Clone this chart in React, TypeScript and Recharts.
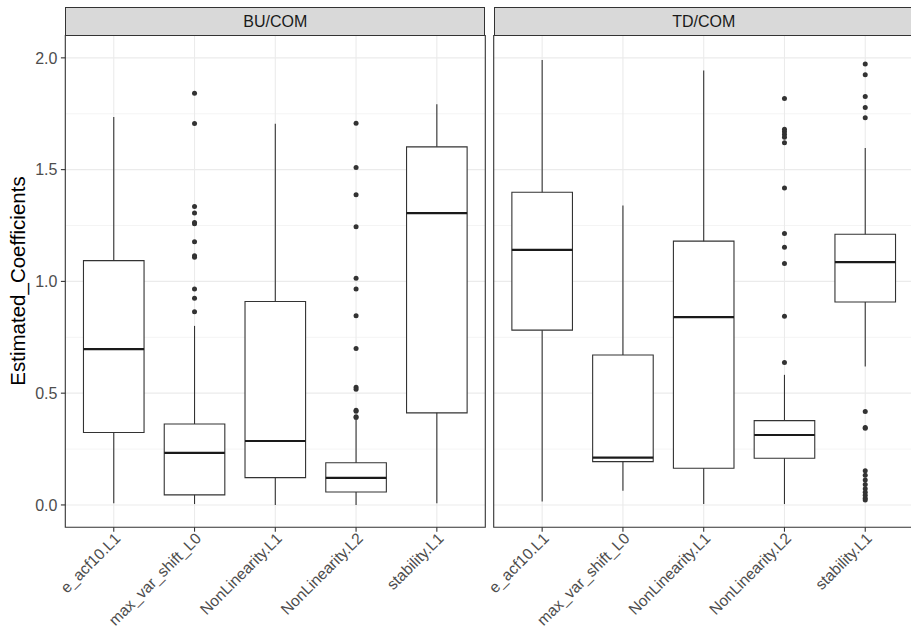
import React from "react";
import {
  CartesianGrid,
  ComposedChart,
  ReferenceArea,
  ReferenceLine,
  Scatter,
  XAxis,
  YAxis,
} from "recharts";

const categories = [
  "e_acf10.L1",
  "max_var_shift_L0",
  "NonLinearity.L1",
  "NonLinearity.L2",
  "stability.L1",
];

const yMajor = [0, 0.5, 1, 1.5, 2];
const yMinor = [0.25, 0.75, 1.25, 1.75];
const xTicks = [1, 2, 3, 4, 5];

// BU/COM panel: five-number summaries per feature
const buLow = [0.008, 0.004, 0.0, 0.0, 0.008];
const buQ1 = [0.324, 0.045, 0.122, 0.058, 0.412];
const buMedian = [0.697, 0.233, 0.286, 0.121, 1.305];
const buQ3 = [1.093, 0.362, 0.91, 0.189, 1.602];
const buHigh = [1.735, 0.801, 1.705, 0.38, 1.793];
const buOutliers: number[][] = [
  [],
  [1.842, 1.706, 1.335, 1.306, 1.263, 1.258, 1.177, 1.115, 1.108, 0.966, 0.925, 0.864],
  [],
  [1.708, 1.509, 1.388, 1.245, 1.014, 0.966, 0.846, 0.7, 0.527, 0.518, 0.424, 0.419, 0.395, 0.391],
  [],
];

// TD/COM panel
const tdLow = [0.015, 0.064, 0.004, 0.004, 0.619];
const tdQ1 = [0.782, 0.194, 0.164, 0.209, 0.908];
const tdMedian = [1.141, 0.212, 0.84, 0.313, 1.086];
const tdQ3 = [1.399, 0.671, 1.18, 0.377, 1.211];
const tdHigh = [1.99, 1.339, 1.943, 0.582, 1.597];
const tdOutliers: number[][] = [
  [],
  [],
  [],
  [1.818, 1.681, 1.669, 1.657, 1.645, 1.62, 1.418, 1.214, 1.153, 1.08, 0.844, 0.637],
  [
    1.972, 1.924, 1.827, 1.778, 1.732, 0.418, 0.346, 0.343, 0.153, 0.133, 0.112,
    0.092, 0.073, 0.057, 0.043, 0.03, 0.022,
  ],
];

const FONT = '"Liberation Sans", Arial, Helvetica, sans-serif';
const INK = "#333333";
const GRID = "#EBEBEB";
const HALF_BOX = 0.375;

const PANEL_TOP = 35.5;
const PANEL_BOTTOM = 527.3;
const CHART_H = 640;
const PLOT_W = 420;

interface Summary {
  low: number[];
  q1: number[];
  median: number[];
  q3: number[];
  high: number[];
  outliers: number[][];
}

const bu: Summary = { low: buLow, q1: buQ1, median: buMedian, q3: buQ3, high: buHigh, outliers: buOutliers };
const td: Summary = { low: tdLow, q1: tdQ1, median: tdMedian, q3: tdQ3, high: tdHigh, outliers: tdOutliers };

function outlierPoints(s: Summary) {
  return s.outliers.flatMap((vals, i) => vals.map((v) => ({ x: i + 1, y: v })));
}

function SlantTick(props: any) {
  const { x, y, payload } = props;
  return (
    <text
      x={x}
      y={y}
      dy="0.7em"
      transform={`rotate(-45 ${x} ${y})`}
      textAnchor="end"
      fontSize={15.6}
      fontFamily={FONT}
      fill="#4D4D4D"
    >
      {categories[payload.value - 1]}
    </text>
  );
}

function Dot(props: any) {
  return <circle cx={props.cx} cy={props.cy} r={2.5} fill={INK} />;
}

function BoxPanel({
  data,
  width,
  left,
  showY,
}: {
  data: Summary;
  width: number;
  left: number;
  showY: boolean;
}) {
  const yWidth = showY ? left : 0;
  return (
    <ComposedChart
      width={width}
      height={CHART_H}
      margin={{ top: PANEL_TOP, bottom: 0, left: showY ? 0 : left, right: width - left - PLOT_W }}
    >
      <CartesianGrid
        horizontalValues={yMinor}
        vertical={false}
        stroke={GRID}
        strokeWidth={0.55}
      />
      <CartesianGrid
        horizontalValues={yMajor}
        verticalValues={xTicks}
        stroke={GRID}
        strokeWidth={1.1}
      />
      <XAxis
        type="number"
        dataKey="x"
        domain={[0.4, 5.6]}
        ticks={xTicks}
        interval={0}
        allowDataOverflow
        axisLine={false}
        tickLine={{ stroke: INK, strokeWidth: 1.1 }}
        tickSize={4.4}
        tickMargin={0}
        tick={<SlantTick />}
        height={CHART_H - PANEL_BOTTOM}
      />
      <YAxis
        type="number"
        dataKey="y"
        domain={[-0.1, 2.1]}
        ticks={yMajor}
        allowDataOverflow
        hide={!showY}
        width={yWidth}
        axisLine={false}
        tickLine={{ stroke: INK, strokeWidth: 1.1 }}
        tickSize={4.4}
        tickMargin={3.5}
        tickFormatter={(v: number) => v.toFixed(1)}
        tick={{ fontSize: 16, fontFamily: FONT, fill: "#4D4D4D" }}
      />
      {categories.map((c, i) => (
        <ReferenceLine
          key={`hi-${c}`}
          segment={[
            { x: i + 1, y: data.q3[i] },
            { x: i + 1, y: data.high[i] },
          ]}
          stroke={INK}
          strokeWidth={1.1}
        />
      ))}
      {categories.map((c, i) => (
        <ReferenceLine
          key={`lo-${c}`}
          segment={[
            { x: i + 1, y: data.low[i] },
            { x: i + 1, y: data.q1[i] },
          ]}
          stroke={INK}
          strokeWidth={1.1}
        />
      ))}
      {categories.map((c, i) => (
        <ReferenceArea
          key={`box-${c}`}
          x1={i + 1 - HALF_BOX}
          x2={i + 1 + HALF_BOX}
          y1={data.q1[i]}
          y2={data.q3[i]}
          fill="#ffffff"
          fillOpacity={1}
          stroke={INK}
          strokeWidth={1.1}
        />
      ))}
      {categories.map((c, i) => (
        <ReferenceLine
          key={`med-${c}`}
          segment={[
            { x: i + 1 - HALF_BOX, y: data.median[i] },
            { x: i + 1 + HALF_BOX, y: data.median[i] },
          ]}
          stroke="#1A1A1A"
          strokeWidth={2.2}
        />
      ))}
      <Scatter
        data={outlierPoints(data)}
        dataKey="y"
        shape={<Dot />}
        isAnimationActive={false}
      />
      <ReferenceArea
        x1={0.4}
        x2={5.6}
        y1={-0.1}
        y2={2.1}
        ifOverflow="visible"
        fill="none"
        fillOpacity={0}
        stroke={INK}
        strokeWidth={1.1}
      />
    </ComposedChart>
  );
}

function Strip({ label, left }: { label: string; left: number }) {
  return (
    <div
      style={{
        position: "absolute",
        left,
        top: 7,
        width: PLOT_W,
        height: PANEL_TOP - 7 + 0.5,
        boxSizing: "border-box",
        background: "#D9D9D9",
        border: `1.1px solid ${INK}`,
        display: "flex",
        alignItems: "center",
        justifyContent: "center",
        fontFamily: FONT,
        fontSize: 16,
        color: "#1A1A1A",
      }}
    >
      {label}
    </div>
  );
}

export default function App() {
  return (
    <div
      style={{
        position: "absolute",
        left: 0,
        top: 0,
        width: 911,
        height: 640,
        overflow: "hidden",
        background: "#ffffff",
      }}
    >
      <div style={{ position: "absolute", left: 0, top: 0 }}>
        <BoxPanel data={bu} width={490} left={65.3} showY />
      </div>
      <div style={{ position: "absolute", left: 490, top: 0 }}>
        <BoxPanel data={td} width={430} left={3.7} showY={false} />
      </div>
      <Strip label="BU/COM" left={65.3} />
      <Strip label="TD/COM" left={493.7} />
      <div
        style={{
          position: "absolute",
          left: 17.5,
          top: (PANEL_TOP + PANEL_BOTTOM) / 2,
          transform: "translate(-50%, -50%) rotate(-90deg)",
          whiteSpace: "nowrap",
          fontFamily: FONT,
          fontSize: 20.5,
          color: "#000000",
        }}
      >
        Estimated_Coefficients
      </div>
    </div>
  );
}
